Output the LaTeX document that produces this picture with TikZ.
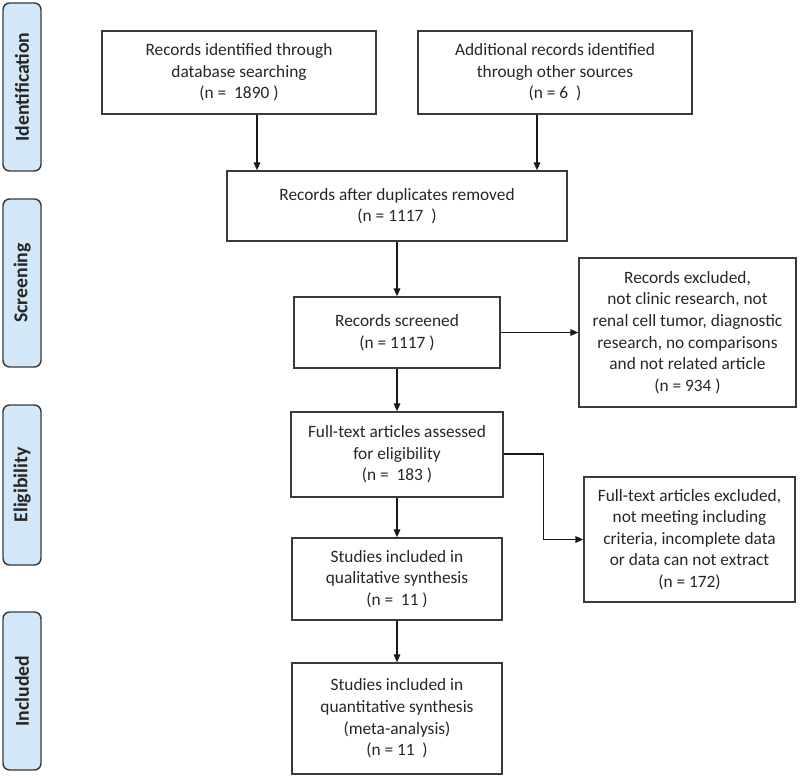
\documentclass[tikz,border=0pt]{standalone}
\usepackage{fontspec}
\setmainfont{Carlito}
\usetikzlibrary{arrows.meta, positioning}

\definecolor{sideblue}{HTML}{D2E8F8}
\definecolor{edgegray}{HTML}{3A3A3A}

\begin{document}
\begin{tikzpicture}[
  x=0.75pt, y=-0.75pt,
  every node/.style={font=\fontsize{13}{16.2}\selectfont, align=center, text=black!85},
  box/.style={draw=edgegray, line width=1.1pt, inner sep=2pt},
  sidebox/.style={draw=edgegray, line width=1.1pt, rounded corners=5pt, fill=sideblue,
    minimum width=38*0.75pt, font=\fontsize{14.8}{16}\selectfont\bfseries},
  ->, >={Triangle[length=6pt, width=5pt]}, line width=1.1pt, draw=black!90
]
\useasboundingbox (0,0) rectangle (800,778);

% Stage labels
\node[sidebox, minimum height=168*0.75pt] (ident) at (22,87) {\rotatebox{90}{Identification}};
\node[sidebox, minimum height=168*0.75pt] (screen) at (22,283) {\rotatebox{90}{Screening}};
\node[sidebox, minimum height=160*0.75pt] (elig) at (22,485) {\rotatebox{90}{Eligibility}};
\node[sidebox, minimum height=158*0.75pt] (incl) at (22,691) {\rotatebox{90}{Included}};

% Nodes
\node[box, minimum width=274*0.75pt, minimum height=83*0.75pt] (recdb) at (239,72.5)
  {Records identified through\\ database searching\\ (n =~ 1890 )};
\node[box, minimum width=274*0.75pt, minimum height=83*0.75pt] (recother) at (555,72.5)
  {Additional records identified\\ through other sources\\ (n = 6~ )};
\node[box, minimum width=340*0.75pt, minimum height=70*0.75pt] (dup) at (397,206)
  {Records after duplicates removed\\ (n = 1117~ )};
\node[box, minimum width=206*0.75pt, minimum height=71*0.75pt] (screened) at (397,332.5)
  {Records screened\\ (n = 1117 )};
\node[box, minimum width=217*0.75pt, minimum height=149*0.75pt] (excl1) at (687.5,332.5)
  {Records excluded,\\ not clinic research, not\\ renal cell tumor, diagnostic\\ research, no comparisons\\ and not related article\\ (n = 934 )};
\node[box, minimum width=212*0.75pt, minimum height=85*0.75pt] (fulltext) at (397,454.5)
  {Full-text articles assessed\\ for eligibility\\ (n =~ 183 )};
\node[box, minimum width=211*0.75pt, minimum height=125*0.75pt] (excl2) at (689.5,539.5)
  {Full-text articles excluded,\\ not meeting including\\ criteria, incomplete data\\ or data can not extract\\ (n = 172)};
\node[box, minimum width=210*0.75pt, minimum height=82*0.75pt] (qual) at (397,579)
  {Studies included in\\ qualitative synthesis\\ (n =~ 11 )};
\node[box, minimum width=210*0.75pt, minimum height=111*0.75pt] (quant) at (397,718.5)
  {Studies included in\\ quantitative synthesis\\ (meta-analysis)\\ (n = 11~ )};

% Arrows
\draw ([xshift=13.5pt]recdb.south) -- ([xshift=13.5pt]recdb.south |- dup.north);
\draw ([xshift=-13.5pt]recother.south) -- ([xshift=-13.5pt]recother.south |- dup.north);
\draw (dup) -- (screened);
\draw (screened.east) -- (screened.east -| excl1.west);
\draw (screened) -- (fulltext);
\draw ([yshift=0.4pt]fulltext.east) -- ++(40,0) |- (excl2.west);
\draw (fulltext) -- (qual);
\draw (qual) -- (quant);

\end{tikzpicture}
\end{document}
